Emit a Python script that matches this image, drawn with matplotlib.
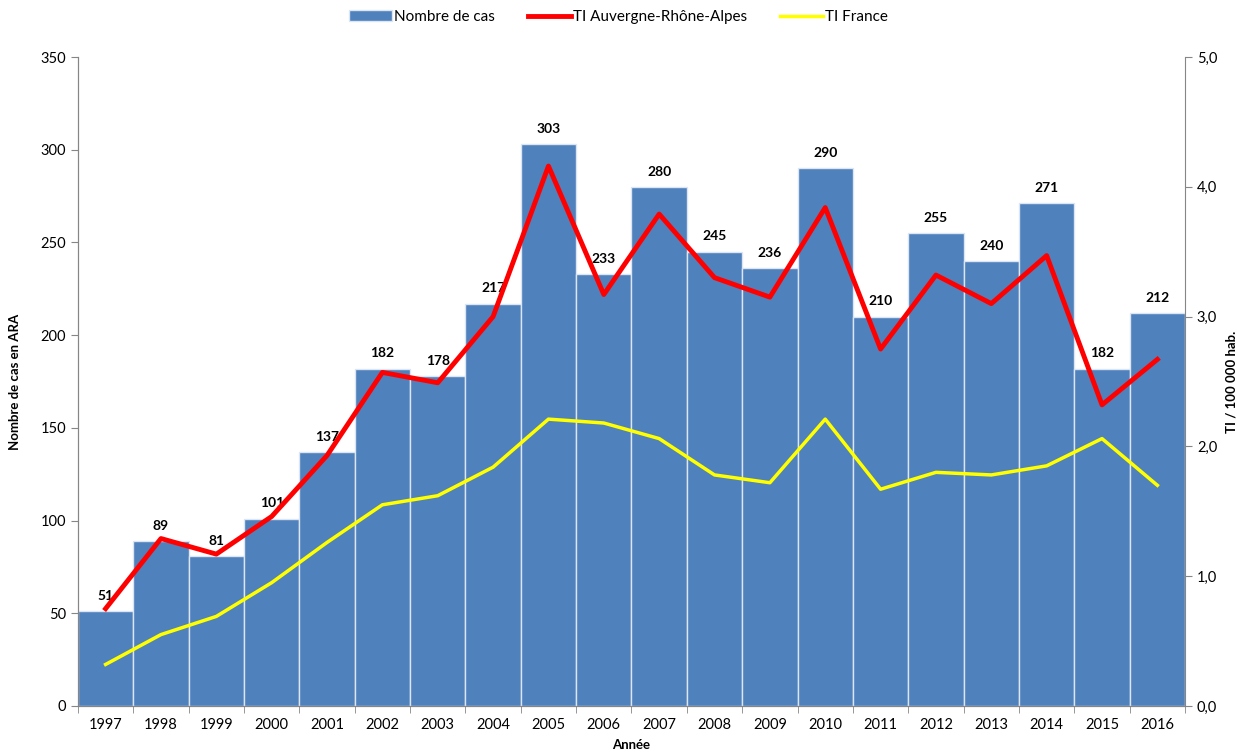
import matplotlib.pyplot as plt
from matplotlib.ticker import FuncFormatter

plt.rcParams['font.family'] = ['Lato', 'DejaVu Sans']

# données
annees = ['1997', '1998', '1999', '2000', '2001', '2002', '2003', '2004', '2005', '2006',
          '2007', '2008', '2009', '2010', '2011', '2012', '2013', '2014', '2015', '2016']
nb_cas = [51, 89, 81, 101, 137, 182, 178, 217, 303, 233,
          280, 245, 236, 290, 210, 255, 240, 271, 182, 212]
ti_ara = [0.75, 1.29, 1.17, 1.46, 1.93, 2.57, 2.49, 3.00, 4.16, 3.17,
          3.79, 3.30, 3.15, 3.84, 2.75, 3.32, 3.10, 3.47, 2.32, 2.67]
ti_france = [0.32, 0.55, 0.69, 0.95, 1.26, 1.55, 1.62, 1.84, 2.21, 2.18,
             2.06, 1.78, 1.72, 2.21, 1.67, 1.80, 1.78, 1.85, 2.06, 1.70]

x = list(range(len(annees)))
gris = '#868686'

fig = plt.figure(figsize=(12.37, 7.54), dpi=100)
ax = fig.add_axes([0.063, 0.0637, 0.895, 0.8607])
ax2 = ax.twinx()

bars = ax.bar(x, nb_cas, width=1.0, color='#4F81BD', edgecolor='#DCE6F2', linewidth=1.0,
              label='Nombre de cas', zorder=2)
for xi, v in zip(x, nb_cas):
    ax.text(xi, v + 5, str(v), ha='center', va='bottom', fontsize=10, fontweight='bold')

l1, = ax2.plot(x, ti_ara, color='#FF0000', linewidth=3.5, label='TI Auvergne-Rhône-Alpes')
l2, = ax2.plot(x, ti_france, color='#FFFF00', linewidth=2.5, label='TI France')

ax.set_xlim(-0.5, len(x) - 0.5)
ax.set_ylim(0, 350)
ax.set_yticks(range(0, 351, 50))
ax2.set_ylim(0, 5)
ax2.set_yticks([0, 1, 2, 3, 4, 5])
ax2.yaxis.set_major_formatter(FuncFormatter(lambda v, p: f'{v:.1f}'.replace('.', ',')))

ax.set_xticks(x)
ax.set_xticklabels(annees)
ax.set_xticks([i - 0.5 for i in range(len(x) + 1)], minor=True)
ax.tick_params(axis='x', which='major', length=0, labelsize=10.5, pad=9)
ax.tick_params(axis='x', which='minor', length=5, color=gris)
ax.tick_params(axis='y', labelsize=10.5, length=5, color=gris)
ax2.tick_params(axis='y', labelsize=10.5, length=5, color=gris)

for a in (ax, ax2):
    a.spines['top'].set_visible(False)
    for s in ('left', 'right', 'bottom'):
        a.spines[s].set_color(gris)
ax.spines['right'].set_visible(False)

ax.set_xlabel('Année', fontsize=9.5, fontweight='bold', labelpad=5)
ax.set_ylabel('Nombre de cas en ARA', fontsize=9.5, fontweight='bold', labelpad=14)
ax2.set_ylabel('TI / 100 000 hab.', fontsize=9.5, fontweight='bold', rotation=90, labelpad=6)

fig.legend(handles=[bars, l1, l2], loc='upper center', bbox_to_anchor=(0.5, 1.005), ncol=3,
           frameon=False, fontsize=11, handlelength=2.8, columnspacing=2.2, handletextpad=0.1)

fig.savefig('out.png', dpi=100)
